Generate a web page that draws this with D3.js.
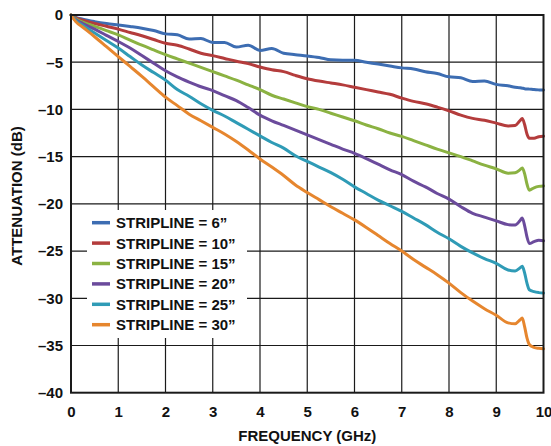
<!DOCTYPE html>
<html><head><meta charset="utf-8">
<script src="https://cdn.jsdelivr.net/npm/d3@7/dist/d3.min.js"></script>
<style>
html,body{margin:0;padding:0;background:#fff;}
svg{display:block;}
text{font-family:"Liberation Sans",Arial,Helvetica,sans-serif;font-weight:bold;fill:#111;}
</style></head>
<body><svg id="c" width="551" height="446"></svg>
<script>
const freq = [0,0.1,0.25,0.5,0.75,1,1.25,1.5,1.75,2,2.25,2.5,2.75,3,3.25,3.5,3.75,4,4.25,4.5,4.75,5,5.25,5.5,5.75,6,6.25,6.5,6.75,7,7.25,7.5,7.75,8,8.25,8.5,8.75,9,9.25,9.4,9.5,9.55,9.6,9.65,9.7,9.8,9.9,10];
const s6  = [0,-0.25,-0.45,-0.7,-0.9,-1.06,-1.22,-1.4,-1.65,-2.0,-2.1,-2.55,-2.5,-2.9,-2.9,-3.4,-3.2,-3.75,-3.55,-4.05,-4.2,-4.33,-4.5,-4.75,-4.8,-4.8,-5.0,-5.2,-5.4,-5.6,-5.72,-6.0,-6.2,-6.55,-6.65,-7.05,-7.0,-7.35,-7.5,-7.65,-7.7,-7.75,-7.8,-7.83,-7.85,-7.9,-7.93,-7.95];
const s10 = [0,-0.3,-0.55,-0.9,-1.2,-1.5,-1.85,-2.2,-2.6,-3.0,-3.2,-3.6,-4.05,-4.3,-4.6,-4.9,-5.15,-5.5,-5.8,-6.0,-6.4,-6.75,-7.0,-7.2,-7.4,-7.65,-7.9,-8.15,-8.4,-8.8,-9.15,-9.4,-9.75,-10.15,-10.6,-10.95,-11.15,-11.45,-11.75,-11.7,-11.2,-10.95,-11.6,-12.6,-13.05,-13.05,-12.9,-12.83];
const s15 = [0,-0.4,-0.75,-1.2,-1.65,-2.1,-2.65,-3.2,-3.7,-4.2,-4.65,-5.1,-5.55,-6.0,-6.45,-6.9,-7.4,-7.9,-8.5,-8.9,-9.3,-9.7,-10.0,-10.4,-10.8,-11.2,-11.65,-12.05,-12.5,-12.85,-13.3,-13.75,-14.2,-14.6,-15.0,-15.45,-15.9,-16.3,-16.75,-16.7,-16.4,-16.2,-16.8,-17.9,-18.55,-18.3,-18.15,-18.1];
const s20 = [0,-0.5,-0.9,-1.5,-2.15,-2.8,-3.5,-4.3,-5.1,-5.9,-6.55,-7.1,-7.6,-8.0,-8.55,-9.06,-9.8,-10.6,-11.2,-11.7,-12.2,-12.7,-13.2,-13.7,-14.2,-14.65,-15.2,-15.8,-16.4,-16.9,-17.6,-18.2,-18.9,-19.5,-20.3,-21.0,-21.4,-21.8,-22.2,-22.25,-21.8,-21.5,-22.3,-23.5,-24.2,-24.0,-23.85,-23.9];
const s25 = [0,-0.6,-1.1,-1.9,-2.7,-3.5,-4.4,-5.3,-6.1,-6.9,-7.9,-8.6,-9.4,-10.1,-10.7,-11.4,-12.1,-12.8,-13.5,-14.1,-14.9,-15.5,-16.1,-16.7,-17.4,-18.2,-18.9,-19.6,-20.2,-20.8,-21.5,-22.2,-23.0,-23.7,-24.5,-25.2,-25.8,-26.3,-27.0,-27.1,-26.8,-26.6,-27.3,-28.4,-29.1,-29.3,-29.4,-29.45];
const s30 = [0,-0.7,-1.3,-2.3,-3.35,-4.4,-5.45,-6.5,-7.6,-8.7,-9.6,-10.5,-11.2,-11.9,-12.6,-13.4,-14.3,-15.25,-16.1,-17.0,-18.0,-18.8,-19.55,-20.3,-21.0,-21.7,-22.5,-23.35,-24.2,-25.0,-25.9,-26.7,-27.5,-28.4,-29.4,-30.3,-31.1,-31.8,-32.6,-32.7,-32.3,-32.1,-33.0,-34.2,-34.9,-35.2,-35.3,-35.35];
const seriesNames = ["STRIPLINE = 6\u201D","STRIPLINE = 10\u201D","STRIPLINE = 15\u201D","STRIPLINE = 20\u201D","STRIPLINE = 25\u201D","STRIPLINE = 30\u201D"];
const seriesValues = [s6,s10,s15,s20,s25,s30];
const colors = ["#3d6db2","#b43c3c","#8bb242","#6b4b9c","#2f9bb6","#e6862e"];
const xTicks = [0,1,2,3,4,5,6,7,8,9,10];
const yTicks = [0,-5,-10,-15,-20,-25,-30,-35,-40];

const svg = d3.select("#c");
const L=71, R=543.5, T=15, B=392.7;
const x = d3.scaleLinear().domain([0,10]).range([L,R]);
const y = d3.scaleLinear().domain([-40,0]).range([B,T]);

// gridlines
const grid = svg.append("g").attr("stroke","#1a1a1a").attr("stroke-width",1.2);
xTicks.slice(1,-1).forEach(t=>grid.append("line").attr("x1",x(t)).attr("x2",x(t)).attr("y1",T).attr("y2",B));
yTicks.slice(1,-1).forEach(t=>grid.append("line").attr("x1",L).attr("x2",R).attr("y1",y(t)).attr("y2",y(t)));

// series
const line = d3.line().x((d,i)=>x(freq[i])).y(d=>y(d)).curve(d3.curveMonotoneX);
seriesValues.forEach((vals,k)=>{
  svg.append("path").datum(vals).attr("d",line).attr("fill","none")
    .attr("stroke",colors[k]).attr("stroke-width",3).attr("stroke-linejoin","round").attr("stroke-linecap","round");
});

// frame
svg.append("rect").attr("x",L).attr("y",T).attr("width",R-L).attr("height",B-T)
  .attr("fill","none").attr("stroke","#1a1a1a").attr("stroke-width",2);

// axes (labels only)
const fmt = v => v<0 ? "\u2013"+Math.abs(v) : String(v);
const xa = svg.append("g").attr("transform",`translate(0,${B})`)
  .call(d3.axisBottom(x).tickValues(xTicks).tickSize(0).tickPadding(14).tickFormat(fmt));
xa.select(".domain").remove();
xa.selectAll("text").attr("font-size",15).attr("font-family","Liberation Sans, Arial, sans-serif").attr("font-weight","bold").attr("fill","#111");
const ya = svg.append("g").attr("transform",`translate(${L},0)`)
  .call(d3.axisLeft(y).tickValues(yTicks).tickSize(0).tickPadding(8).tickFormat(fmt));
ya.select(".domain").remove();
ya.selectAll("text").attr("font-size",15).attr("font-family","Liberation Sans, Arial, sans-serif").attr("font-weight","bold").attr("fill","#111");

svg.append("text").attr("x",(L+R)/2).attr("y",441).attr("text-anchor","middle").attr("font-size",15).text("FREQUENCY (GHz)");
svg.append("text").attr("transform","translate(22,196) rotate(-90)").attr("text-anchor","middle").attr("font-size",15).text("ATTENUATION (dB)");

// legend
const lg = svg.append("g");
lg.append("rect").attr("x",87).attr("y",210).attr("width",160).attr("height",128).attr("fill","#fff");
seriesNames.forEach((n,k)=>{
  const cy = 222.7 + k*20.4;
  lg.append("line").attr("x1",92).attr("x2",110).attr("y1",cy).attr("y2",cy).attr("stroke",colors[k]).attr("stroke-width",3.5);
  lg.append("text").attr("x",116).attr("y",cy+5.5).attr("font-size",15).text(n);
});
</script></body></html>
